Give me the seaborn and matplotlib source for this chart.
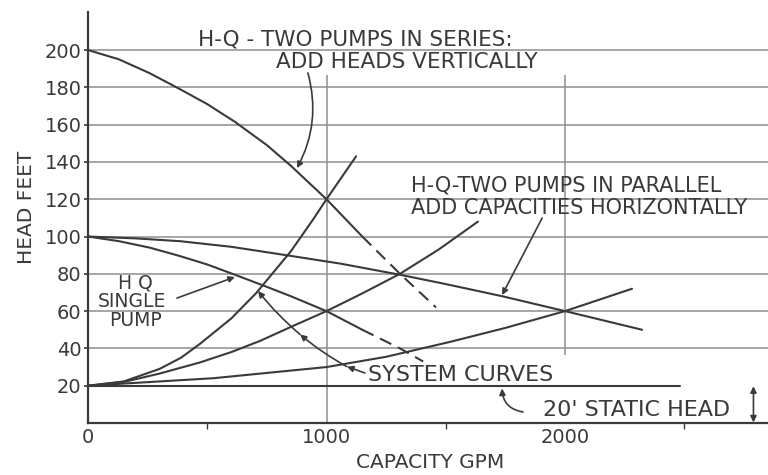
import matplotlib
matplotlib.use("Agg")
import matplotlib.pyplot as plt
import pandas as pd
import seaborn as sns

# ---------------- data ----------------
series_q = [0, 130, 260, 386, 500, 616, 750, 850, 1000, 1150]
series_h = [200, 195, 187.5, 179, 171, 161.5, 149, 138, 120, 100]
series_dash_q = [1150, 1308, 1459]
series_dash_h = [100, 80, 62]

single_q = [0, 130, 260, 386, 500, 616, 750, 850, 1000, 1150]
single_h = [100, 97.5, 94, 89.5, 85, 79.5, 73, 68, 60, 50]
single_dash_q = [1150, 1308, 1405]
single_dash_h = [50, 40, 33]

parallel_q = [0, 200, 386, 600, 805, 1057, 1308, 1500, 1736, 2000, 2323]
parallel_h = [100, 99, 97.5, 94.5, 90.5, 85.5, 79.5, 74.5, 68, 60, 50]

sysA_q = [0, 150, 300, 390, 470, 600, 704, 850, 943, 1000, 1124]
sysA_h = [20, 22.3, 29, 35, 42.5, 56, 69.5, 92, 109, 120, 143]

sysB_q = [0, 150, 300, 470, 600, 721, 850, 1000, 1150, 1308, 1470, 1635]
sysB_h = [20, 22, 26.5, 32.5, 38, 44, 51.5, 60, 69.5, 80, 93, 108]

sysC_q = [0, 524, 1000, 1250, 1518, 1750, 2000, 2281]
sysC_h = [20, 24, 30, 35.5, 43.5, 51, 60, 72]

static_q = [0, 2480]
static_h = [20, 20]

y_ticks = [20, 40, 60, 80, 100, 120, 140, 160, 180, 200]
x_ticks = [0, 1000, 2000]
x_minor = [500, 1500, 2500]

# ---------------- styling ----------------
sns.set_theme(style="white")
plt.rcParams["font.family"] = ["DejaVu Sans"]
INK = "#3a3a3a"
GRID = "#8e8e8e"
LW = 1.5

fig = plt.figure(figsize=(7.68, 4.75), dpi=100)
fig.patch.set_facecolor("white")
ax = fig.add_axes([88 / 768, 52 / 475, 680 / 768, 411 / 475])
ax.set_facecolor("white")
ax.set_xlim(0, 2851)
ax.set_ylim(0, 220.4)

# grid (drawn manually, as in the drawing)
for yv in y_ticks[1:]:
    ax.axhline(yv, color=GRID, lw=1.1, zorder=1)
ax.vlines(1000, 0, 186.6, color=GRID, lw=1.1, zorder=1)
ax.vlines(2000, 36.5, 186.6, color=GRID, lw=1.1, zorder=1)


def draw(q, h, dashed=False):
    df = pd.DataFrame({"q": q, "h": h})
    kw = dict(color=INK, lw=LW, sort=False, estimator=None, ax=ax, zorder=3)
    if dashed:
        kw["linestyle"] = (0, (6, 3.5))
    sns.lineplot(data=df, x="q", y="h", **kw)


draw(static_q, static_h)
draw(series_q, series_h)
draw(series_dash_q, series_dash_h, dashed=True)
draw(single_q, single_h)
draw(single_dash_q, single_dash_h, dashed=True)
draw(parallel_q, parallel_h)
draw(sysA_q, sysA_h)
draw(sysB_q, sysB_h)
draw(sysC_q, sysC_h)

# axes
for s in ["top", "right"]:
    ax.spines[s].set_visible(False)
for s in ["left", "bottom"]:
    ax.spines[s].set_color(INK)
    ax.spines[s].set_linewidth(1.6)

ax.set_yticks(y_ticks)
ax.set_yticklabels([str(v) for v in y_ticks])
ax.set_xticks(x_ticks)
ax.set_xticklabels([str(v) for v in x_ticks])
ax.set_xticks(x_minor, minor=True)
ax.tick_params(axis="y", which="major", direction="out", length=3, width=1.2,
               color=INK, labelsize=14, labelcolor=INK, pad=1.5, left=True)
ax.tick_params(axis="x", which="major", length=0, labelsize=14,
               labelcolor=INK, pad=3.5)
ax.tick_params(axis="x", which="minor", direction="out", length=4, width=1.0,
               color=INK, bottom=True)

ax.set_xlabel("CAPACITY GPM", fontsize=14.5, color=INK)
ax.xaxis.set_label_coords(0.503, -0.072)
ax.set_ylabel("HEAD FEET", fontsize=14.5, color=INK)
ax.yaxis.set_label_coords(-0.0765, 0.5255)

# ---------------- annotations ----------------
tkw = dict(color=INK, ha="center", va="center", zorder=5)
ax.text(1119.5, 205.8, "H-Q - TWO PUMPS IN SERIES:", fontsize=15.5, **tkw)
ax.text(1337.5, 193.8, "ADD HEADS VERTICALLY", fontsize=15.5, **tkw)
ax.text(2004, 127.2, "H-Q-TWO PUMPS IN PARALLEL", fontsize=15, **tkw)
ax.text(2059, 115.3, "ADD CAPACITIES HORIZONTALLY", fontsize=15, **tkw)
ax.text(197, 75, "H Q", fontsize=13.5, **tkw)
ax.text(184.5, 65.4, "SINGLE", fontsize=13.5, **tkw)
ax.text(201, 54.7, "PUMP", fontsize=13.5, **tkw)
ax.text(1174, 25.7, "SYSTEM CURVES", fontsize=16, color=INK, ha="left",
        va="center", zorder=5)
ax.text(2298, 7, "20' STATIC HEAD", fontsize=16, **tkw)


def arrow(p_from, p_to, rad=0.0, style="-|>"):
    ax.annotate("", xy=p_to, xytext=p_from, zorder=4,
                arrowprops=dict(arrowstyle=style, color=INK, lw=1.2,
                                mutation_scale=9, shrinkA=0, shrinkB=0,
                                connectionstyle=f"arc3,rad={rad}"))


arrow((922, 187.7), (876, 136.7), rad=-0.2)          # series
arrow((1904, 109.9), (1736, 68.6))                    # parallel
arrow((373, 67), (616, 78.3))                         # single pump
arrow((1161, 26.8), (1086, 30.2))                     # system curves leader
arrow((1086, 30.2), (889, 47.5), rad=-0.05)
arrow((889, 47.5), (713, 70.8), rad=-0.05)
arrow((1824, 5.9), (1736, 18.5), rad=-0.4)           # static head
arrow((2790, 0.3), (2790, 19.7), style="<|-|>")       # static head dimension

fig.savefig("out.png", dpi=100)
